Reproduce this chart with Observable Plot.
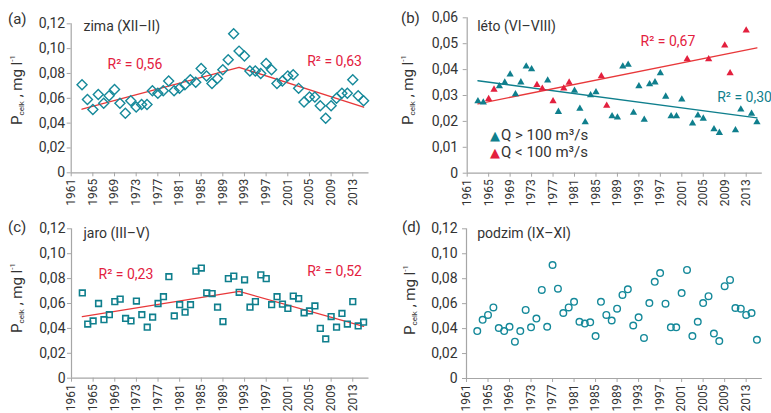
<!DOCTYPE html>
<html><head><meta charset="utf-8">
<script src="https://cdn.jsdelivr.net/npm/d3@7"></script>
<script src="https://cdn.jsdelivr.net/npm/@observablehq/plot@0.6"></script>
<style>
body{margin:0;background:#fff;font-family:Roboto,"Liberation Sans",sans-serif;}
#chart{position:relative;width:771px;height:413px;overflow:hidden;background:#fff;}
.panel{position:absolute;}
.lbl{position:absolute;color:#333;white-space:nowrap;line-height:1;}
.ylab{position:absolute;font-size:15px;color:#333;white-space:nowrap;line-height:1;transform:translate(-50%,-50%) rotate(-90deg);}
.ylab sub{font-size:8px;vertical-align:-2px;}
.ylab sup{font-size:8px;vertical-align:7px;}
</style></head>
<body><div id="chart"></div>
<script>
// ---------- data ----------
const years = [1963,1964,1965,1966,1967,1968,1969,1970,1971,1972,1973,1974,1975,1976,1977,1978,1979,1980,1981,1982,1983,1984,1985,1986,1987,1988,1989,1990,1991,1992,1993,1994,1995,1996,1997,1998,1999,2000,2001,2002,2003,2004,2005,2006,2007,2008,2009,2010,2011,2012,2013,2014,2015];
const xTicks = [1961,1965,1969,1973,1977,1981,1985,1989,1993,1997,2001,2005,2009,2013];
const yTicks012 = [0,0.02,0.04,0.06,0.08,0.10,0.12];
const yTicks006 = [0,0.01,0.02,0.03,0.04,0.05,0.06];

const winter = [0.071,0.059,0.051,0.063,0.056,0.062,0.067,0.056,0.048,0.058,0.053,0.055,0.055,0.066,0.064,0.066,0.074,0.066,0.068,0.071,0.075,0.073,0.084,0.078,0.072,0.076,0.083,0.091,0.112,0.098,0.094,0.082,0.082,0.080,0.088,0.083,0.072,0.074,0.078,0.079,0.068,0.057,0.061,0.061,0.054,0.044,0.054,0.060,0.064,0.064,0.075,0.062,0.058];
const spring = [0.0685,0.0435,0.046,0.060,0.047,0.051,0.0615,0.0635,0.048,0.046,0.062,0.051,0.041,0.049,0.060,0.0655,0.0815,0.050,0.059,0.053,0.059,0.086,0.0885,0.0685,0.068,0.057,0.0455,0.080,0.082,0.069,0.079,0.057,0.0615,0.083,0.080,0.059,0.0655,0.0595,0.056,0.066,0.064,0.0525,0.054,0.058,0.040,0.0315,0.0495,0.041,0.052,0.0435,0.0615,0.042,0.045];
const autumn = [0.038,0.047,0.051,0.057,0.0405,0.038,0.0415,0.0295,0.038,0.055,0.041,0.048,0.071,0.0415,0.091,0.072,0.0525,0.057,0.0615,0.0455,0.044,0.045,0.034,0.0615,0.051,0.0465,0.056,0.067,0.0715,0.0425,0.049,0.0325,0.0605,0.0775,0.0845,0.060,0.041,0.041,0.0685,0.087,0.034,0.0455,0.0605,0.066,0.036,0.030,0.074,0.079,0.0565,0.056,0.051,0.0525,0.031];

const summerHighYears = [1963,1964,1967,1968,1969,1970,1971,1972,1973,1976,1978,1981,1982,1983,1984,1985,1988,1989,1990,1991,1992,1993,1994,1995,1996,1997,1998,1999,2000,2001,2003,2004,2005,2007,2008,2011,2012,2014,2015];
const summerHigh = [0.0278,0.0273,0.0336,0.035,0.0381,0.0305,0.0351,0.0412,0.0402,0.0358,0.0237,0.0319,0.0249,0.0197,0.0301,0.0313,0.022,0.0215,0.0412,0.0419,0.0234,0.0336,0.0207,0.0344,0.0351,0.0386,0.0296,0.022,0.022,0.0285,0.0192,0.0223,0.0211,0.017,0.0156,0.0166,0.0246,0.023,0.0197];
const summerLowYears = [1965,1966,1974,1975,1977,1979,1980,1986,1987,2002,2006,2009,2010,2013];
const summerLow = [0.0287,0.0323,0.0341,0.0326,0.0278,0.0327,0.035,0.0375,0.0261,0.044,0.044,0.0493,0.0386,0.0551];

// trend lines
const trendBreakYears = [1963,1992,2015];
const trendWinter = [0.0512,0.085,0.0528];
const trendSpring = [0.0494,0.0697,0.0416];
const trendSummerYears = [1963,2015];
const trendSummerHigh = [0.0357,0.0214];
const trendSummerLow = [0.0268,0.0484];

const titles = ["zima (XII–II)","léto (VI–VIII)","jaro (III–V)","podzim (IX–XI)"];
const letters = ["(a)","(b)","(c)","(d)"];
const r2Winter = ["R² = 0,56","R² = 0,63"];
const r2Summer = ["R² = 0,67","R² = 0,30"];
const r2Spring = ["R² = 0,23","R² = 0,52"];
const legendLabels = ["Q > 100 m³/s","Q < 100 m³/s"];

// ---------- styles ----------
const TEAL = "#15899a", TEAL_D = "#0f7f8d", RED = "#e3203e", LINE_RED = "#e8383a", AXIS = "#a6a6a6", TXT = "#333";
const FONT = "Roboto, 'Liberation Sans', sans-serif";
const toRows = (xs, ys) => xs.map((x, i) => ({year: x, p: ys[i]}));
const fmtY = d => d === 0 ? "0" : d3.format(".2f")(d).replace(".", ",");

const chart = document.getElementById("chart");

function panel(cfg, marks) {
  const svg = Plot.plot({
    width: cfg.width, height: cfg.height,
    marginLeft: cfg.ml, marginRight: cfg.mr, marginTop: cfg.mt, marginBottom: cfg.mb,
    x: {domain: [1961, 2016]},
    y: {domain: [0, cfg.yMax]},
    style: {fontFamily: FONT, fontSize: "14px", color: TXT, background: "transparent", overflow: "visible"},
    marks: [
      Plot.ruleX([1961], {stroke: AXIS, strokeWidth: 1.2}),
      Plot.ruleY([0], {stroke: AXIS, strokeWidth: 1.2}),
      Plot.axisY({ticks: cfg.yTicks, tickSize: 4, tickPadding: cfg.yPad, tickFormat: fmtY, stroke: AXIS, fill: TXT, label: null}),
      Plot.axisX({ticks: xTicks, tickSize: 4, tickPadding: 2, tickRotate: -90, tickFormat: d => String(d), stroke: AXIS, fill: TXT, fontSize: 12, label: null}),
      ...marks
    ]
  });
  const div = document.createElement("div");
  div.className = "panel";
  div.style.left = cfg.left + "px";
  div.style.top = cfg.top + "px";
  div.appendChild(svg);
  chart.appendChild(div);
}

function label(text, dx, dy, fill) {
  return Plot.text([text], {text: d => d, frameAnchor: "top-left", textAnchor: "start", lineAnchor: "middle", dx, dy, fill, fontSize: 14});
}

// (a) winter
panel({left: 0, top: 0, width: 385, height: 205, ml: 70.7, mr: 16.5, mt: 23.3, mb: 32.7, yMax: 0.12, yTicks: yTicks012, yPad: 2}, [
  Plot.line(toRows(trendBreakYears, trendWinter), {x: "year", y: "p", stroke: LINE_RED, strokeWidth: 1.3}),
  Plot.dot(toRows(years, winter), {x: "year", y: "p", symbol: "diamond2", r: 4.5, stroke: TEAL, strokeWidth: 1.4, fill: "none"}),
  label(titles[0], 12.3, 2.7, TXT),
  label(r2Winter[0], 36.3, 40.7, RED),
  label(r2Winter[1], 236, 37.7, RED)
]);

// (b) summer
panel({left: 385, top: 0, width: 386, height: 205, ml: 81.7, mr: 9.2, mt: 17.3, mb: 32.3, yMax: 0.06, yTicks: yTicks006, yPad: 5}, [
  Plot.line(toRows(trendSummerYears, trendSummerHigh), {x: "year", y: "p", stroke: TEAL_D, strokeWidth: 1.3}),
  Plot.line(toRows(trendSummerYears, trendSummerLow), {x: "year", y: "p", stroke: LINE_RED, strokeWidth: 1.3}),
  Plot.dot(toRows(summerHighYears, summerHigh), {x: "year", y: "p", symbol: "triangle", r: 2.7, fill: TEAL_D, stroke: "none"}),
  Plot.dot(toRows(summerLowYears, summerLow), {x: "year", y: "p", symbol: "triangle", r: 2.7, fill: RED, stroke: "none"}),
  label(titles[1], 10, 8.7, TXT),
  label(r2Summer[0], 173.3, 23.7, RED),
  label(r2Summer[1], 250, 80, TEAL_D)
]);

// (c) spring
panel({left: 0, top: 205, width: 385, height: 208, ml: 71, mr: 16.5, mt: 23.3, mb: 35.3, yMax: 0.12, yTicks: yTicks012, yPad: 2}, [
  Plot.line(toRows(trendBreakYears, trendSpring), {x: "year", y: "p", stroke: LINE_RED, strokeWidth: 1.3}),
  Plot.dot(toRows(years, spring), {x: "year", y: "p", symbol: "square2", r: 3.6, stroke: TEAL_D, strokeWidth: 1.6, fill: "none"}),
  label(titles[2], 12, 5, TXT),
  label(r2Spring[0], 27, 45.7, RED),
  label(r2Spring[1], 235.7, 42.7, RED)
]);

// (d) autumn
panel({left: 385, top: 205, width: 386, height: 208, ml: 81, mr: 9.2, mt: 23.3, mb: 35, yMax: 0.12, yTicks: yTicks012, yPad: 5}, [
  Plot.dot(toRows(years, autumn), {x: "year", y: "p", symbol: "circle", r: 3.3, stroke: TEAL, strokeWidth: 1.4, fill: "none"}),
  label(titles[3], 10.7, 5, TXT)
]);

// panel letters
const letterPos = [[8, 12], [401, 11], [8, 220], [402, 220]];
letters.forEach((t, i) => {
  const d = document.createElement("div");
  d.className = "lbl";
  d.style.cssText = `left:${letterPos[i][0]}px;top:${letterPos[i][1]}px;font-size:15px;`;
  d.textContent = t;
  chart.appendChild(d);
});

// y-axis titles
const ylabPos = [[17, 90], [408, 90], [17, 298], [410, 300]];
ylabPos.forEach(([x, y]) => {
  const d = document.createElement("div");
  d.className = "ylab";
  d.style.left = x + "px";
  d.style.top = y + "px";
  d.innerHTML = "P<sub>celk</sub> , mg l<sup>-1</sup>";
  chart.appendChild(d);
});

// legend in (b)
const legColors = [TEAL_D, RED];
const legTop = [128, 145];
legendLabels.forEach((t, i) => {
  const d = document.createElement("div");
  d.className = "lbl";
  d.style.cssText = `left:490px;top:${legTop[i]}px;font-size:15px;`;
  const s = document.createElement("span");
  s.style.cssText = `color:${legColors[i]};font-family:'DejaVu Sans';font-size:13px;margin-right:1px;`;
  s.textContent = "▲";
  d.appendChild(s);
  d.appendChild(document.createTextNode(t));
  chart.appendChild(d);
});
</script>
</body></html>
